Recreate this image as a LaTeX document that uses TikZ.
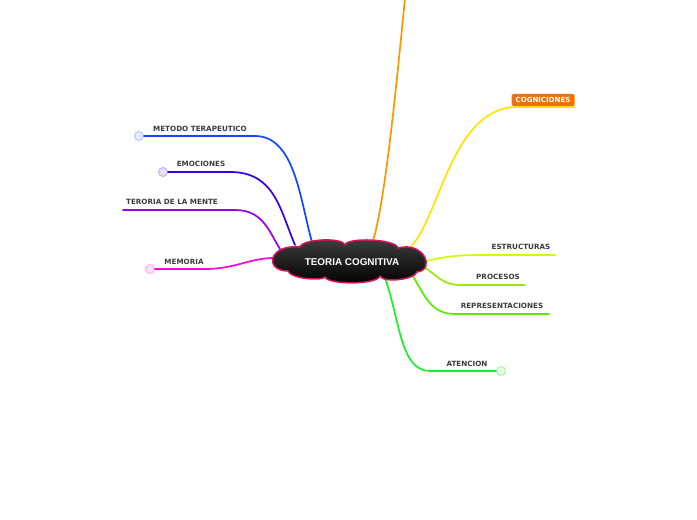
\documentclass[tikz,border=0pt]{standalone}
\usepackage{fontspec}
\newfontfamily\lblfont{DejaVu Sans}
\newfontfamily\ctrfont{Liberation Sans}
\definecolor{cOrange}{RGB}{255,150,0}
\definecolor{cYellow}{RGB}{255,228,0}
\definecolor{cYG}{RGB}{210,250,0}
\definecolor{cLime}{RGB}{150,235,0}
\definecolor{cGreen}{RGB}{90,235,0}
\definecolor{cBright}{RGB}{30,238,40}
\definecolor{cBlue}{RGB}{20,70,255}
\definecolor{cIndigo}{RGB}{55,0,225}
\definecolor{cPurple}{RGB}{155,0,235}
\definecolor{cMagenta}{RGB}{255,0,220}
\definecolor{cBorder}{RGB}{215,20,85}
\definecolor{cBox}{RGB}{235,115,15}
\definecolor{cText}{RGB}{60,60,60}
\tikzset{
  branch/.style={line width=1.7pt, line cap=round},
  lbl/.style={text=cText, font=\lblfont\bfseries\fontsize{7.2}{8}\selectfont, inner sep=0pt},
  knob/.style={circle, minimum size=9pt, inner sep=0pt, line width=1pt},
}
\begin{document}
\begin{tikzpicture}[x=1pt,y=1pt]
\useasboundingbox (0,0) rectangle (697,520);
% attachment coordinates
\coordinate (oS) at (373,279);
\coordinate (oE) at (406,532);
\coordinate (yS) at (408,270);
\coordinate (yM) at (515,413);
\coordinate (yE) at (575,413);
\coordinate (esS) at (422,258);
\coordinate (esM) at (480,265);
\coordinate (esE) at (555,265);
\coordinate (prS) at (420,255);
\coordinate (prM) at (460,235);
\coordinate (prE) at (525,235);
\coordinate (reS) at (412,245);
\coordinate (reM) at (455,206);
\coordinate (reE) at (549,206);
\coordinate (atS) at (385,242);
\coordinate (atM) at (430,149);
\coordinate (meS) at (312,278);
\coordinate (meM) at (255,384);
\coordinate (emS) at (295,275);
\coordinate (emM) at (230,348);
\coordinate (teS) at (282,268);
\coordinate (teM) at (235,310);
\coordinate (teE) at (123,310);
\coordinate (moS) at (274,262);
\coordinate (moM) at (205,251);
% knobs
\node[knob, draw=cBlue!30, fill=cBlue!12] (k1) at (139,384) {};
\node[knob, draw=cIndigo!30, fill=cIndigo!12] (k2) at (163,348) {};
\node[knob, draw=cMagenta!30, fill=cMagenta!12] (k3) at (150,251) {};
\node[knob, draw=cBright!40, fill=cBright!12] (k4) at (501,149) {};
% branches
\draw[branch, cOrange] (oS) .. controls (385,320) and (395,420) .. (oE);
\draw[branch, cYellow] (yS) .. controls (440,300) and (450,410) .. (yM) -- (yE);
\draw[branch, cYG] (esS) .. controls (440,262) and (450,265) .. (esM) -- (esE);
\draw[branch, cLime] (prS) .. controls (435,248) and (440,235) .. (prM) -- (prE);
\draw[branch, cGreen] (reS) .. controls (425,225) and (430,206) .. (reM) -- (reE);
\draw[branch, cBright] (atS) .. controls (400,200) and (400,149) .. (atM) -- (k4.west);
\draw[branch, cBlue] (meS) .. controls (300,320) and (295,384) .. (meM) -- (k1.east);
\draw[branch, cIndigo] (emS) .. controls (280,310) and (275,348) .. (emM) -- (k2.east);
\draw[branch, cPurple] (teS) .. controls (270,285) and (265,310) .. (teM) -- (teE);
\draw[branch, cMagenta] (moS) .. controls (250,262) and (235,251) .. (moM) -- (k3.east);
% cloud
\def\cloudpath{(300,273) .. controls (302,281) and (343,283) .. (345,275)
  .. controls (347,283) and (396,281) .. (398,272)
  .. controls (424,279) and (436,250) .. (417,248)
  .. controls (414,240) and (383,237) .. (380,244)
  .. controls (377,235) and (328,235) .. (325,243)
  .. controls (322,239) and (291,241) .. (288,249)
  .. controls (264,249) and (268,276) .. (300,273) -- cycle}
\shade[top color=black!75, bottom color=black] \cloudpath;
\draw[cBorder, line width=1.5pt, line join=round] \cloudpath;
\node[text=white, font=\ctrfont\bfseries\fontsize{9.9}{11}\selectfont, inner sep=0pt] (root) at (352,258) {TEORIA COGNITIVA};
% labels
\node[fill=cBox, rounded corners=1.5pt, text=white, font=\lblfont\bfseries\fontsize{7}{8}\selectfont, minimum width=63pt, minimum height=12pt, inner sep=0pt] (cog) at (543,420) {COGNICIONES};
\node[lbl] (es) at (521,273) {ESTRUCTURAS};
\node[lbl] (pr) at (498,243) {PROCESOS};
\node[lbl] (re) at (502,214) {REPRESENTACIONES};
\node[lbl] (at) at (467,156) {ATENCION};
\node[lbl] (me) at (200,391) {METODO TERAPEUTICO};
\node[lbl] (em) at (201,356) {EMOCIONES};
\node[lbl] (te) at (172,318) {TERORIA DE LA MENTE};
\node[lbl] (mo) at (184,258) {MEMORIA};
\end{tikzpicture}
\end{document}
